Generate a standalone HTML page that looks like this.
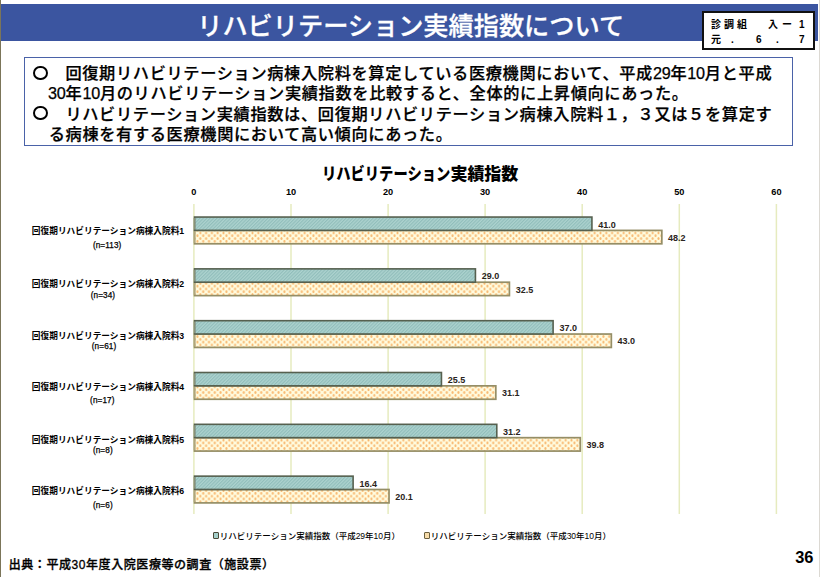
<!DOCTYPE html>
<html lang="ja">
<head>
<meta charset="utf-8">
<style>
html,body{margin:0;padding:0;}
body{width:820px;height:577px;position:relative;overflow:hidden;background:#fff;
  font-family:"Liberation Sans","Noto Sans CJK JP",sans-serif;color:#000;}
.abs{position:absolute;white-space:nowrap;}
#lb{left:0;top:0;width:1px;height:577px;background:#7b7559;}
#rb{left:819px;top:0;width:1px;height:577px;background:#dcd9d3;}
#bar{left:1px;top:4px;width:817px;height:37px;background:#3b55a0;}
#title{margin-top:2.26px;left:197.2px;top:3.3px;font-size:25.2px;line-height:40px;color:#fff;font-family:"Liberation Sans","Noto Sans CJK JP",sans-serif;font-weight:500;-webkit-text-stroke:0.3px #fff;letter-spacing:0px;}
#tag{left:702px;top:11px;width:108.8px;height:34.8px;background:#fff;border:2px solid #111;}
.tg{margin-top:0.9px;position:absolute;font-family:"Liberation Sans","Noto Sans CJK JP",sans-serif;font-size:10px;line-height:10px;font-weight:700;}
#box{left:24px;top:57px;width:767px;height:87px;border:1.3px solid #4a62a8;}
.ln{margin-top:1.45px;position:absolute;white-space:nowrap;font-family:"Liberation Sans","Noto Sans CJK JP",sans-serif;font-size:16.2px;line-height:21px;font-weight:500;letter-spacing:0.66px;-webkit-text-stroke:0.25px #000;}
.d{letter-spacing:-0.25px;}
.ci{position:absolute;width:10.6px;height:10.6px;border:2px solid #000;border-radius:50%;}
#foot{margin-top:1.07px;left:8.7px;top:554px;letter-spacing:0.57px;-webkit-text-stroke:0.3px #000;font-family:"Liberation Sans","Noto Sans CJK JP",sans-serif;font-size:12px;line-height:20px;font-weight:500;}
#pg{left:795.2px;top:546.6px;font-family:"Liberation Sans",sans-serif;font-size:16.4px;line-height:20px;font-weight:700;}
svg{position:absolute;left:0;top:0;}
.yl{margin-top:1.78px;position:absolute;left:20px;width:176px;text-align:center;white-space:nowrap;font-family:"Liberation Sans","Noto Sans CJK JP",sans-serif;font-size:8.7px;line-height:13px;font-weight:700;}
.yn{margin-top:0.72px;position:absolute;white-space:nowrap;font-family:"Liberation Sans","Noto Sans CJK JP",sans-serif;font-size:8.2px;line-height:12px;font-weight:400;letter-spacing:0.1px;-webkit-text-stroke:0.25px #000;}
.ct{margin-top:2.52px;position:absolute;white-space:nowrap;font-family:"Liberation Sans","Noto Sans CJK JP",sans-serif;font-size:15.5px;line-height:20px;font-weight:900;}
.lg{margin-top:0.76px;position:absolute;white-space:nowrap;font-family:"Liberation Sans","Noto Sans CJK JP",sans-serif;font-size:8.5px;line-height:12px;font-weight:500;}
.sq{position:absolute;width:4.2px;height:4.5px;border:0.9px solid #4a4a38;border-radius:1px;}
</style>
</head>
<body>
<div class="abs" id="lb"></div>
<div class="abs" id="rb"></div>
<div class="abs" id="bar"></div>
<div class="abs" id="title">リハビリテーション実績指数について</div>
<div class="abs" id="tag">
  <span class="tg" style="left:7px;top:6.3px;">診</span>
  <span class="tg" style="left:20px;top:6.3px;">調</span>
  <span class="tg" style="left:33px;top:6.3px;">組</span>
  <span class="tg" style="left:64px;top:6.3px;">入</span>
  <span class="tg" style="left:78px;top:6.3px;">ー</span>
  <span class="tg" style="left:95px;top:6.3px;">1</span>
  <span class="tg" style="left:7px;top:21.3px;">元</span>
  <span class="tg" style="left:27px;top:21.3px;">.</span>
  <span class="tg" style="left:52px;top:21.3px;">6</span>
  <span class="tg" style="left:72px;top:21.3px;">.</span>
  <span class="tg" style="left:95px;top:21.3px;">7</span>
</div>
<div class="abs" id="box"></div>
<div class="ci" style="left:33px;top:65.5px;"></div>
<div class="ci" style="left:33px;top:105.5px;"></div>
<div class="ln" style="left:65.4px;top:61.3px;">回復期リハビリテーション病棟入院料を算定している医療機関において、平成<span class="d">29</span>年<span class="d">10</span>月と平成</div>
<div class="ln" style="left:48px;top:81.5px;"><span class="d">30</span>年<span class="d">10</span>月のリハビリテーション実績指数を比較すると、全体的に上昇傾向にあった。</div>
<div class="ln" style="left:65.4px;top:102.7px;">リハビリテーション実績指数は、回復期リハビリテーション病棟入院料１，３又は５を算定す</div>
<div class="ln" style="left:48.7px;top:122.9px;">る病棟を有する医療機関において高い傾向にあった。</div>

<div class="ct" style="left:321.6px;top:162.5px;font-size:17px;transform:scaleX(0.84);transform-origin:0 0;">リハビリテーション</div>
<div class="ct" style="left:450.5px;top:162.5px;font-size:17px;letter-spacing:-0.1px;">実績指数</div>

<svg width="820" height="577" viewBox="0 0 820 577">
  <defs>
    <pattern id="pt" width="2.4" height="2.4" patternUnits="userSpaceOnUse" patternTransform="rotate(-45)">
      <rect width="2.4" height="2.4" fill="#acd2ce"/>
      <rect width="2.4" height="1.1" fill="#91bebb"/>
    </pattern>
    <pattern id="pc" x="-1.25" y="-0.9" width="5.8" height="5.6" patternUnits="userSpaceOnUse">
      <rect width="5.8" height="5.6" fill="#fffbde"/>
      <ellipse cx="1.45" cy="1.4" rx="1.05" ry="1.4" fill="#f9b870"/>
      <ellipse cx="4.35" cy="4.2" rx="1.05" ry="1.4" fill="#f9b870"/>
    </pattern>
  </defs>
<line x1="193.9" y1="204" x2="193.9" y2="514" stroke="#e6ebbf" stroke-width="1.5"/>
<line x1="291.0" y1="204" x2="291.0" y2="514" stroke="#e6ebbf" stroke-width="1.5"/>
<line x1="388.1" y1="204" x2="388.1" y2="514" stroke="#e6ebbf" stroke-width="1.5"/>
<line x1="485.1" y1="204" x2="485.1" y2="514" stroke="#e6ebbf" stroke-width="1.5"/>
<line x1="582.2" y1="204" x2="582.2" y2="514" stroke="#e6ebbf" stroke-width="1.5"/>
<line x1="679.3" y1="204" x2="679.3" y2="514" stroke="#e6ebbf" stroke-width="1.5"/>
<line x1="776.4" y1="204" x2="776.4" y2="514" stroke="#e6ebbf" stroke-width="1.5"/>
<text x="193.9" y="195.1" text-anchor="middle" font-size="9.2" font-weight="700" font-family="Liberation Sans, sans-serif">0</text>
<text x="291.0" y="195.1" text-anchor="middle" font-size="9.2" font-weight="700" font-family="Liberation Sans, sans-serif">10</text>
<text x="388.1" y="195.1" text-anchor="middle" font-size="9.2" font-weight="700" font-family="Liberation Sans, sans-serif">20</text>
<text x="485.1" y="195.1" text-anchor="middle" font-size="9.2" font-weight="700" font-family="Liberation Sans, sans-serif">30</text>
<text x="582.2" y="195.1" text-anchor="middle" font-size="9.2" font-weight="700" font-family="Liberation Sans, sans-serif">40</text>
<text x="679.3" y="195.1" text-anchor="middle" font-size="9.2" font-weight="700" font-family="Liberation Sans, sans-serif">50</text>
<text x="776.4" y="195.1" text-anchor="middle" font-size="9.2" font-weight="700" font-family="Liberation Sans, sans-serif">60</text>
<rect x="194.5" y="230.40" width="467.33" height="13.4" fill="url(#pc)" stroke="#958e66" stroke-width="1.7"/>
<rect x="194.5" y="217.05" width="397.43" height="13.3" fill="url(#pt)" stroke="#56604f" stroke-width="1.6"/>
<line x1="194.5" y1="217.90" x2="194.5" y2="229.60" stroke="#8a9178" stroke-width="1.6"/>
<line x1="194.5" y1="231.20" x2="194.5" y2="243.00" stroke="#b0a67c" stroke-width="1.6"/>
<text x="598.2" y="227.5" font-size="9" font-weight="700" fill="#2a2420" font-family="Liberation Sans, sans-serif">41.0</text>
<text x="668.1" y="240.8" font-size="9" font-weight="700" fill="#2a2420" font-family="Liberation Sans, sans-serif">48.2</text>
<rect x="194.5" y="282.22" width="314.91" height="13.4" fill="url(#pc)" stroke="#958e66" stroke-width="1.7"/>
<rect x="194.5" y="268.87" width="280.93" height="13.3" fill="url(#pt)" stroke="#56604f" stroke-width="1.6"/>
<line x1="194.5" y1="269.72" x2="194.5" y2="281.42" stroke="#8a9178" stroke-width="1.6"/>
<line x1="194.5" y1="283.02" x2="194.5" y2="294.82" stroke="#b0a67c" stroke-width="1.6"/>
<text x="481.7" y="279.3" font-size="9" font-weight="700" fill="#2a2420" font-family="Liberation Sans, sans-serif">29.0</text>
<text x="515.7" y="292.6" font-size="9" font-weight="700" fill="#2a2420" font-family="Liberation Sans, sans-serif">32.5</text>
<rect x="194.5" y="334.04" width="416.84" height="13.4" fill="url(#pc)" stroke="#958e66" stroke-width="1.7"/>
<rect x="194.5" y="320.69" width="358.60" height="13.3" fill="url(#pt)" stroke="#56604f" stroke-width="1.6"/>
<line x1="194.5" y1="321.54" x2="194.5" y2="333.24" stroke="#8a9178" stroke-width="1.6"/>
<line x1="194.5" y1="334.84" x2="194.5" y2="346.64" stroke="#b0a67c" stroke-width="1.6"/>
<text x="559.4" y="331.1" font-size="9" font-weight="700" fill="#2a2420" font-family="Liberation Sans, sans-serif">37.0</text>
<text x="617.6" y="344.4" font-size="9" font-weight="700" fill="#2a2420" font-family="Liberation Sans, sans-serif">43.0</text>
<rect x="194.5" y="385.86" width="301.32" height="13.4" fill="url(#pc)" stroke="#958e66" stroke-width="1.7"/>
<rect x="194.5" y="372.51" width="246.95" height="13.3" fill="url(#pt)" stroke="#56604f" stroke-width="1.6"/>
<line x1="194.5" y1="373.36" x2="194.5" y2="385.06" stroke="#8a9178" stroke-width="1.6"/>
<line x1="194.5" y1="386.66" x2="194.5" y2="398.46" stroke="#b0a67c" stroke-width="1.6"/>
<text x="447.8" y="383.0" font-size="9" font-weight="700" fill="#2a2420" font-family="Liberation Sans, sans-serif">25.5</text>
<text x="502.1" y="396.3" font-size="9" font-weight="700" fill="#2a2420" font-family="Liberation Sans, sans-serif">31.1</text>
<rect x="194.5" y="437.68" width="385.78" height="13.4" fill="url(#pc)" stroke="#958e66" stroke-width="1.7"/>
<rect x="194.5" y="424.33" width="302.29" height="13.3" fill="url(#pt)" stroke="#56604f" stroke-width="1.6"/>
<line x1="194.5" y1="425.18" x2="194.5" y2="436.88" stroke="#8a9178" stroke-width="1.6"/>
<line x1="194.5" y1="438.48" x2="194.5" y2="450.28" stroke="#b0a67c" stroke-width="1.6"/>
<text x="503.1" y="434.8" font-size="9" font-weight="700" fill="#2a2420" font-family="Liberation Sans, sans-serif">31.2</text>
<text x="586.6" y="448.1" font-size="9" font-weight="700" fill="#2a2420" font-family="Liberation Sans, sans-serif">39.8</text>
<rect x="194.5" y="489.50" width="194.53" height="13.4" fill="url(#pc)" stroke="#958e66" stroke-width="1.7"/>
<rect x="194.5" y="476.15" width="158.61" height="13.3" fill="url(#pt)" stroke="#56604f" stroke-width="1.6"/>
<line x1="194.5" y1="477.00" x2="194.5" y2="488.70" stroke="#8a9178" stroke-width="1.6"/>
<line x1="194.5" y1="490.30" x2="194.5" y2="502.10" stroke="#b0a67c" stroke-width="1.6"/>
<text x="359.4" y="486.6" font-size="9" font-weight="700" fill="#2a2420" font-family="Liberation Sans, sans-serif">16.4</text>
<text x="395.3" y="499.9" font-size="9" font-weight="700" fill="#2a2420" font-family="Liberation Sans, sans-serif">20.1</text>
</svg>
<div class="yl" style="top:223.6px;">回復期リハビリテーション病棟入院料1</div>
<div class="yn" style="left:92.9px;top:239.2px;">(n=113)</div>
<div class="yl" style="top:276.2px;">回復期リハビリテーション病棟入院料2</div>
<div class="yn" style="left:90.7px;top:288.8px;">(n=34)</div>
<div class="yl" style="top:328.1px;">回復期リハビリテーション病棟入院料3</div>
<div class="yn" style="left:91.8px;top:339.9px;">(n=61)</div>
<div class="yl" style="top:379.0px;">回復期リハビリテーション病棟入院料4</div>
<div class="yn" style="left:90.1px;top:394.7px;">(n=17)</div>
<div class="yl" style="top:431.8px;">回復期リハビリテーション病棟入院料5</div>
<div class="yn" style="left:92.9px;top:444.2px;">(n=8)</div>
<div class="yl" style="top:483.1px;">回復期リハビリテーション病棟入院料6</div>
<div class="yn" style="left:92.9px;top:499.2px;">(n=6)</div>
<div class="sq" style="left:212.5px;top:532.1px;background:#a4cfca;"></div>
<div class="lg" style="left:219.8px;top:529px;">リハビリテーション実績指数（平成29年10月）</div>
<div class="sq" style="left:423.7px;top:532.1px;background:#f7dcaa;border-color:#6b6040;"></div>
<div class="lg" style="left:430.8px;top:529px;">リハビリテーション実績指数（平成30年10月）</div>

<div class="abs" id="foot">出典：平成30年度入院医療等の調査（施設票）</div>
<div class="abs" id="pg">36</div>
</body>
</html>
